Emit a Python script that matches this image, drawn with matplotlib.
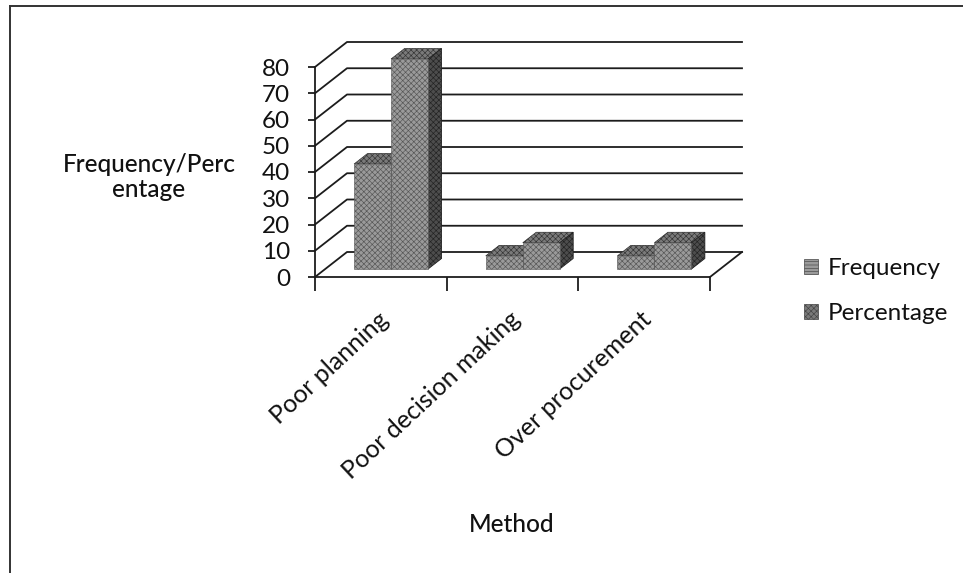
import matplotlib
matplotlib.use("Agg")
import matplotlib.pyplot as plt
from matplotlib.patches import Polygon, Patch, Rectangle
from matplotlib.transforms import ScaledTranslation
import numpy as np

categories = ["Poor planning", "Poor decision making", "Over procurement"]
frequency = [40, 5, 5]
percentage = [80, 10, 10]
y_ticks = [0, 10, 20, 30, 40, 50, 60, 70, 80]

W, H = 963, 573
plt.rcParams['font.family'] = ['Lato', 'DejaVu Sans']
plt.rcParams['hatch.linewidth'] = 0.45
fig = plt.figure(figsize=(W / 100, H / 100), dpi=100, facecolor='white')

# Front plane of the 3D box, in pixels
L, R, T, B = 315, 710, 67, 277
ax = fig.add_axes([L / W, 1 - B / H, (R - L) / W, (B - T) / H])
ax.set_xlim(0, len(categories))
ax.set_ylim(0, y_ticks[-1])
ax.patch.set_alpha(0)

# depth vector of the box in data units
DX = 32 / ((R - L) / 3)
DY = 25 / ((B - T) / 80)
line = dict(color='#1c1c1c', lw=1.3, clip_on=False, zorder=1)
for v in y_ticks:
    ax.plot([0, DX, 3 + DX], [v, v + DY, v + DY], **line)
ax.plot([3, 3 + DX], [0, DY], **line)

FACE, TOP, SIDE = '#9a9a9a', '#7a7a7a', '#4d4d4d'
HATCH = '#555555'
d0, d1 = 0.32, 0.74   # bar depth range, share of box depth
bw = 0.281            # width of one bar


def bar3d(x0, v):
    ox, oy = DX * d0, DY * d0
    ddx, ddy = DX * (d1 - d0), DY * (d1 - d0)
    x, y = x0 + ox, oy
    x1, y1 = x + bw, y + v
    ax.add_patch(Polygon([(x, y1), (x1, y1), (x1 + ddx, y1 + ddy), (x + ddx, y1 + ddy)],
                         fc=TOP, ec='#333333', lw=0.5, hatch='xxxxxx', clip_on=False, zorder=3))
    ax.add_patch(Polygon([(x1, y), (x1 + ddx, y + ddy), (x1 + ddx, y1 + ddy), (x1, y1)],
                         fc=SIDE, ec='#222222', lw=0.6, hatch='xxxxxx', clip_on=False, zorder=3))
    ax.add_patch(Rectangle((x, y), bw, v, fc=FACE, ec=HATCH, lw=0.4,
                           hatch='xxxxxx', clip_on=False, zorder=4))


for i in range(len(categories)):
    c = i + 0.5 - bw
    bar3d(c, frequency[i])
    bar3d(c + bw, percentage[i])

ax.set_xticks(range(len(categories) + 1))
ax.set_xticklabels([])
ax.set_xticks(np.arange(len(categories)) + 0.5, minor=True)
ax.set_xticklabels(categories, minor=True, rotation=43, ha='right', va='top',
                   rotation_mode='anchor', fontsize=18, color='#111111')
ax.tick_params(axis='x', which='minor', length=0, pad=22)
ax.tick_params(axis='x', which='major', length=10, width=1.3, color='#1c1c1c')
shift = ScaledTranslation(-4 / 100, 0, fig.dpi_scale_trans)
for lab in ax.get_xticklabels(minor=True):
    lab.set_transform(lab.get_transform() + shift)
ax.set_yticks(y_ticks)
ax.set_yticklabels([str(v) for v in y_ticks], fontsize=17.5, color='#111111')
ax.tick_params(axis='y', length=5, width=1.3, color='#1c1c1c', pad=13)
for s in ['top', 'right']:
    ax.spines[s].set_visible(False)
for s in ['left', 'bottom']:
    ax.spines[s].set_linewidth(1.3)
    ax.spines[s].set_color('#1c1c1c')

ax.set_ylabel("Frequency/Perc\nentage", rotation=0, fontsize=17.6, fontweight='medium',
              ha='center', va='center', linespacing=1.1, color='#111111')
ax.yaxis.set_label_coords((149 - L) / (R - L), (B - 177) / (B - T))
ax.set_xlabel("Method", fontsize=17.6, fontweight='medium', color='#111111')
ax.xaxis.set_label_coords((512 - L) / (R - L), (B - 525) / (B - T))
ax.xaxis.label.set_va('center')

handles = [Patch(fc=FACE, ec='#444444', hatch='-----', lw=0.5),
           Patch(fc=TOP, ec='#444444', hatch='xxxxxx', lw=0.5)]
ax.legend(handles, ["Frequency", "Percentage"], loc='center left',
          bbox_to_anchor=(804 / W, 1 - 291 / H), bbox_transform=fig.transFigure,
          frameon=False, fontsize=17.5, handlelength=0.58, handleheight=0.58,
          handletextpad=0.38, labelspacing=1.0, borderpad=0, borderaxespad=0,
          labelcolor='#111111')

# Scanned outer frame: left and top edges only
frame = dict(color='#333333', lw=1.4, transform=fig.transFigure, clip_on=False)
for xs, ys in [([10, 10], [6, 573]), ([10, 963], [6, 6])]:
    fig.add_artist(plt.Line2D([x / W for x in xs], [1 - y / H for y in ys], **frame))

fig.savefig("out.png", dpi=100, facecolor='white')
